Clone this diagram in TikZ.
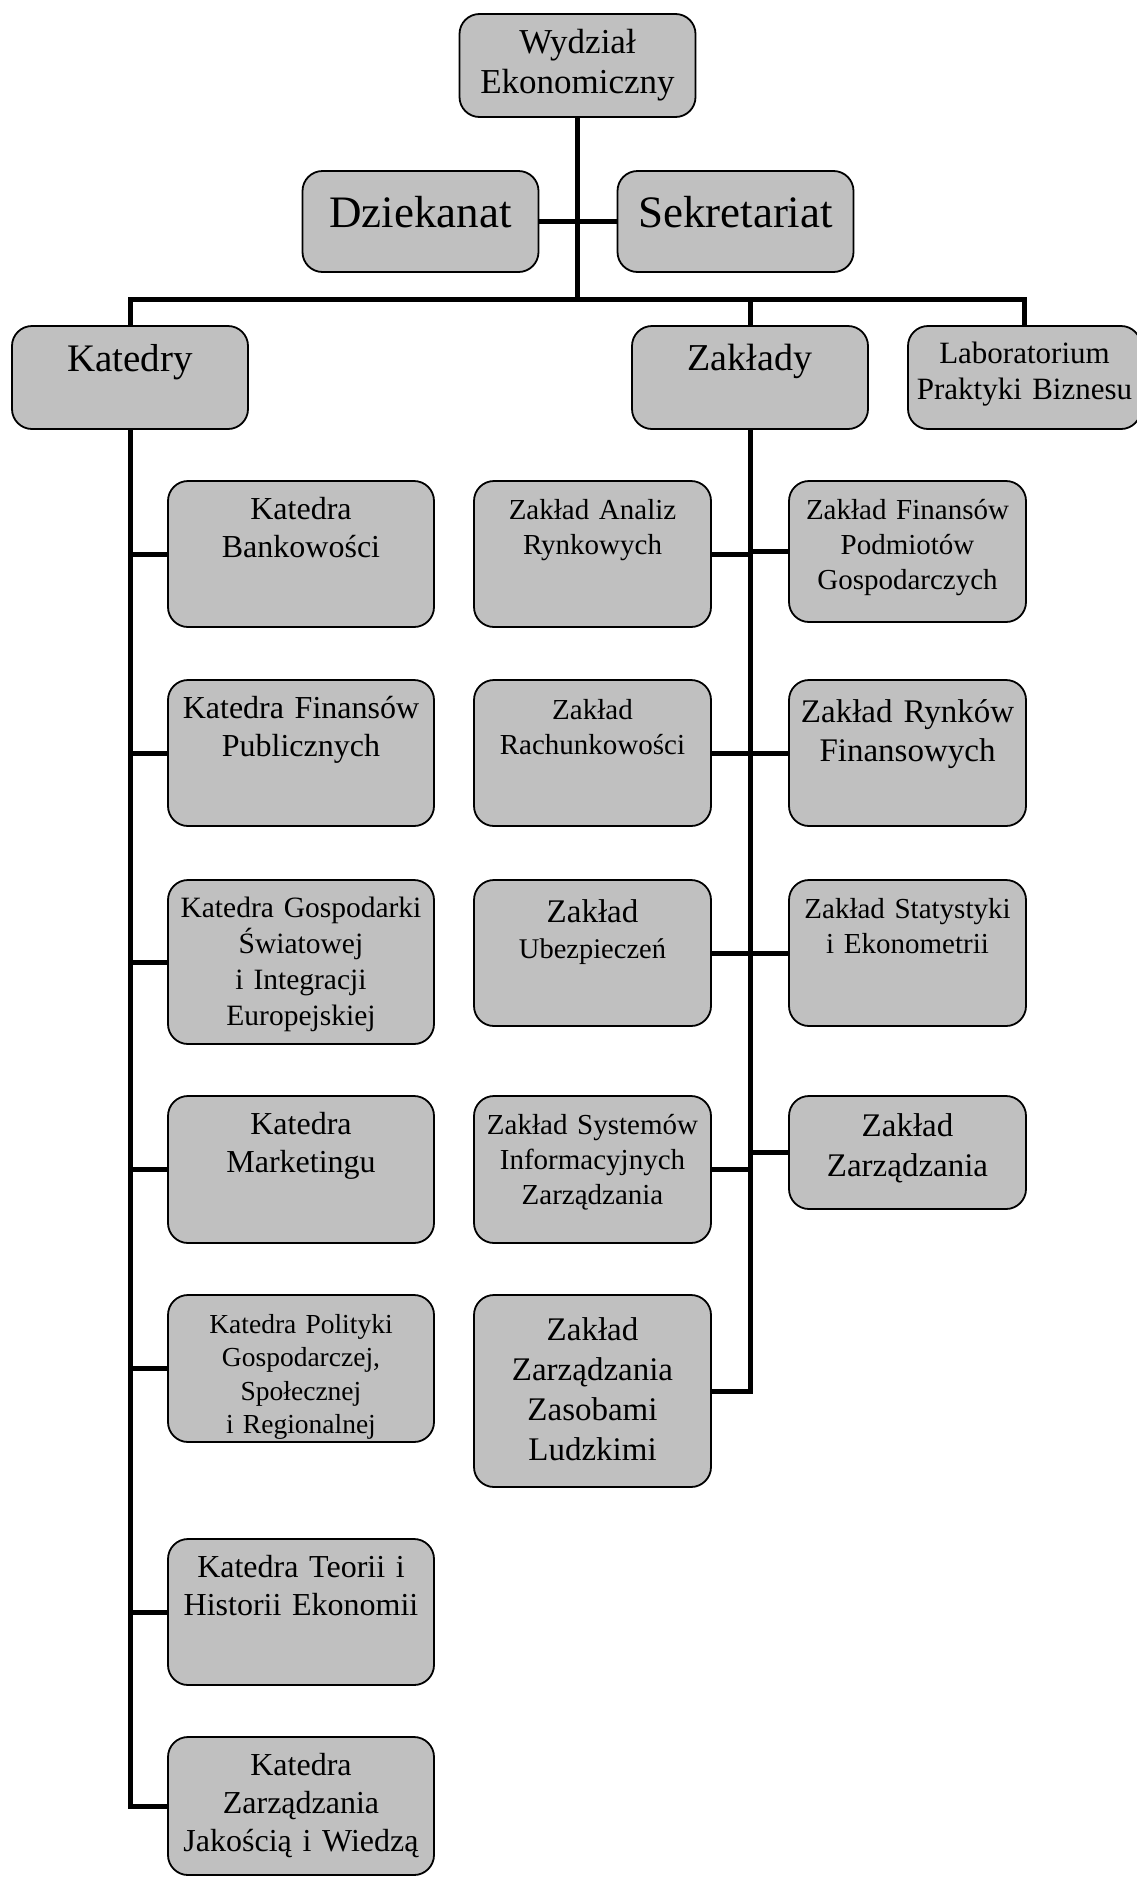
\documentclass[tikz,border=0pt]{standalone}
\usepackage{fontspec}
\setmainfont{Liberation Serif}
\definecolor{boxgray}{RGB}{192,192,192}
% text block of fixed height, first baseline at #2 below the top
\newcommand{\boxtext}[3]{\parbox[c][#1][t]{\linewidth}{\centering\vspace*{\dimexpr#2-0.891em\relax}\rule{0pt}{0.891em}#3}}

\begin{document}
\begin{tikzpicture}[
  x=1pt,y=-1pt,
  unit/.style={
    rectangle, rounded corners=20pt, line width=1.8pt,
    draw=black, fill=boxgray, inner sep=0pt, outer sep=0pt
  },
  headbox/.style={unit, text width=236pt},
  katbox/.style={unit, text width=266pt, font=\fontsize{32}{38}\selectfont},
  zakbox/.style={unit, text width=237pt, font=\fontsize{29}{35}\selectfont},
  link/.style={draw=black, line width=5pt}
]
\useasboundingbox (0,0) rectangle (1136,1877);

% ---- Top of the faculty ----
\node[headbox, font=\fontsize{35}{39.5}\selectfont] (wydzial) at (577.5,65.5) {\boxtext{103pt}{39.5pt}{Wydział\\Ekonomiczny}};
\node[headbox, font=\fontsize{45}{50}\selectfont] (dziekanat) at (420.5,221.5) {\boxtext{101pt}{56pt}{Dziekanat}};
\node[headbox, font=\fontsize{45}{50}\selectfont] (sekretariat) at (735.5,221.5) {\boxtext{101pt}{56pt}{Sekretariat}};

\node[headbox, font=\fontsize{39}{45}\selectfont] (katedry) at (130,377.5) {\boxtext{103pt}{45pt}{Katedry}};
\node[headbox, font=\fontsize{38}{45}\selectfont] (zaklady) at (750,377.5) {\boxtext{103pt}{44pt}{Zakłady}};
\node[unit, text width=233pt, font=\fontsize{31}{36}\selectfont] (lab) at (1024.5,377.5) {\boxtext{103pt}{37pt}{Laboratorium\\Praktyki Biznesu}};

\coordinate (bus) at (577.5,299);

% ---- Katedry (left column) ----
\node[katbox] (k1) at (301,554) {\boxtext{146pt}{38pt}{Katedra\\Bankowości}};
\node[katbox] (k2) at (301,753) {\boxtext{146pt}{38pt}{Katedra Finansów\\Publicznych}};
\node[katbox, font=\fontsize{29.5}{36}\selectfont] (k3) at (301,962) {\boxtext{164pt}{37pt}{Katedra Gospodarki\\Światowej\\i Integracji\\Europejskiej}};
\node[katbox] (k4) at (301,1169.5) {\boxtext{147pt}{38pt}{Katedra\\Marketingu}};
\node[katbox, font=\fontsize{27.5}{33.5}\selectfont] (k5) at (301,1368.5) {\boxtext{147pt}{38pt}{Katedra Polityki\\Gospodarczej,\\Społecznej\\i Regionalnej}};
\node[katbox] (k6) at (301,1612) {\boxtext{146pt}{38pt}{Katedra Teorii i\\Historii Ekonomii}};
\node[katbox] (k7) at (301,1806) {\boxtext{138pt}{38pt}{Katedra\\Zarządzania\\Jakością i Wiedzą}};

% ---- Zaklady (two columns) ----
\node[zakbox] (zl1) at (592.5,554) {\boxtext{146pt}{38pt}{Zakład Analiz\\Rynkowych}};
\node[zakbox] (zl2) at (592.5,753) {\boxtext{146pt}{39.5pt}{Zakład\\Rachunkowości}};
\node[zakbox, font=\fontsize{33}{36}\selectfont] (zl3) at (592.5,953) {\boxtext{146pt}{42pt}{Zakład\\{\fontsize{28.5}{36}\selectfont Ubezpieczeń}}};
\node[zakbox] (zl4) at (592.5,1169.5) {\boxtext{147pt}{38pt}{Zakład Systemów\\Informacyjnych\\Zarządzania}};
\node[zakbox, font=\fontsize{33}{40}\selectfont] (zl5) at (592.5,1391) {\boxtext{192pt}{45.5pt}{Zakład\\Zarządzania\\Zasobami\\Ludzkimi}};

\node[zakbox] (zr1) at (907.5,551.5) {\boxtext{141pt}{38pt}{Zakład Finansów\\Podmiotów\\Gospodarczych}};
\node[zakbox, font=\fontsize{33}{39.5}\selectfont] (zr2) at (907.5,753) {\boxtext{146pt}{42pt}{Zakład Rynków\\Finansowych}};
\node[zakbox] (zr3) at (907.5,953) {\boxtext{146pt}{38pt}{Zakład Statystyki\\i Ekonometrii}};
\node[zakbox, font=\fontsize{33}{39.5}\selectfont] (zr4) at (907.5,1152.5) {\boxtext{113pt}{40.7pt}{Zakład\\Zarządzania}};

% ---- Connectors ----
\draw[link] (wydzial.south) -- (bus);
\draw[link] (dziekanat.east) -- (sekretariat.west);
\draw[link] (katedry.north) |- (bus -| lab.north) -- (lab.north);
\draw[link] (bus -| zaklady.north) -- (zaklady.north);

\foreach \k in {k1,k2,k3,k4,k5,k6,k7}{
  \draw[link] (katedry.south) |- (\k.west);
}
\foreach \z in {zl1,zl2,zl3,zl4,zl5}{
  \draw[link] (zaklady.south) |- (\z.east);
}
\foreach \z in {zr1,zr2,zr3,zr4}{
  \draw[link] (zaklady.south) |- (\z.west);
}

\end{tikzpicture}
\end{document}
